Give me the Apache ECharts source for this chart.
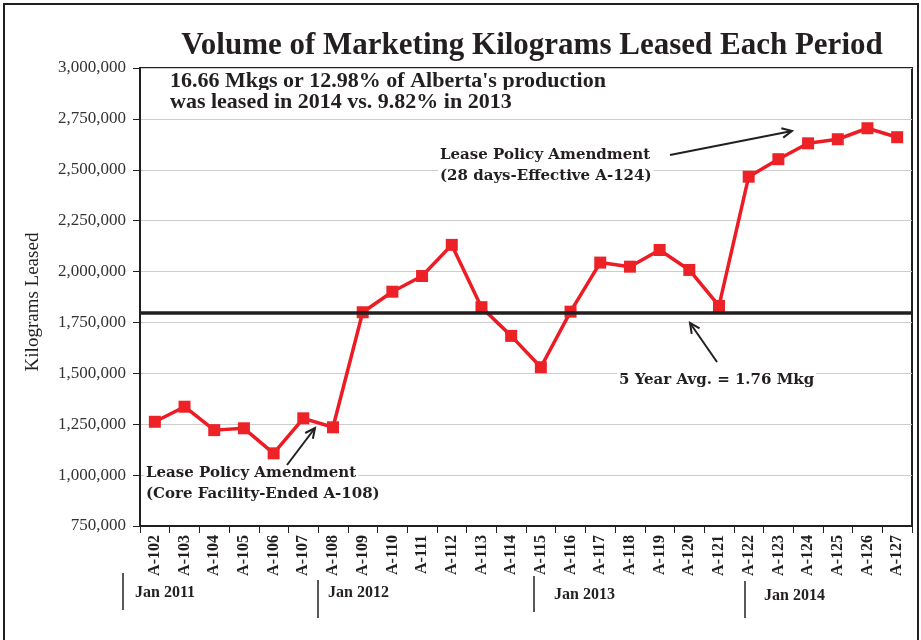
<!DOCTYPE html>
<html>
<head>
<meta charset="utf-8">
<script src="https://cdn.jsdelivr.net/npm/echarts@6/dist/echarts.min.js"></script>
<style>
html,body{margin:0;padding:0;background:#fff;}
#chart{width:921px;height:640px;}
</style>
</head>
<body>
<div id="chart"></div>
<script>
// ---- data ----
const categories = ['A-102','A-103','A-104','A-105','A-106','A-107','A-108','A-109','A-110','A-111','A-112','A-113','A-114','A-115','A-116','A-117','A-118','A-119','A-120','A-121','A-122','A-123','A-124','A-125','A-126','A-127'];
const leasedKg = [1262000,1336000,1221000,1230000,1107000,1279000,1235000,1800000,1901000,1978000,2131000,1825000,1684000,1530000,1803000,2044000,2024000,2106000,2008000,1831000,2466000,2552000,2630000,2650000,2704000,2660000];
const averageKg = 1800000;
const yTicks = {min:750000, max:3000000, interval:250000};
const yearLabels = ['Jan 2011','Jan 2012','Jan 2013','Jan 2014'];
const titleText = 'Volume of Marketing Kilograms Leased Each Period';
const yAxisTitle = 'Kilograms Leased';
const noteLines = ["16.66 Mkgs or 12.98% of Alberta's production", 'was leased in 2014 vs. 9.82% in 2013'];
const amendA = ['Lease Policy Amendment','(28 days-Effective A-124)'];
const amendB = ['Lease Policy Amendment','(Core Facility-Ended A-108)'];
const avgNote = '5 Year Avg. = 1.76 Mkg';

const SERIF = '"Liberation Serif","DejaVu Serif",serif';
const WIDE = '"DejaVu Serif","Liberation Serif",serif';
const INK = '#231f20';

function arrow(x1,y1,x2,y2){
  const a = Math.atan2(y2-y1,x2-x1), L=11, w=0.45;
  const p1=[x2-L*Math.cos(a-w), y2-L*Math.sin(a-w)];
  const p2=[x2-L*Math.cos(a+w), y2-L*Math.sin(a+w)];
  return [
    {type:'line',z:110,shape:{x1:x1,y1:y1,x2:x2,y2:y2},style:{stroke:INK,lineWidth:2}},
    {type:'polyline',z:110,shape:{points:[p1,[x2,y2],p2]},style:{stroke:INK,lineWidth:2,fill:null}}
  ];
}
function txt(x,y,t,size,fam,bg){
  const st = {text:t,font:'bold '+size+'px '+fam,fill:INK,textVerticalAlign:'middle'};
  if(bg){ st.backgroundColor='#fff'; st.padding=[1,2]; }
  return {type:'text',z:100,x:x,y:y,style:st};
}
function vline(x,y1,y2){
  return {type:'line',z:100,shape:{x1:x,y1:y1,x2:x,y2:y2},style:{stroke:INK,lineWidth:1.5}};
}

const chart = echarts.init(document.getElementById('chart'));
const graphics = [
  {type:'rect',z:100,shape:{x:4,y:4,width:914,height:650},style:{stroke:INK,lineWidth:2,fill:null},silent:true},
  {type:'text',z:100,x:33,y:302,rotation:Math.PI/2,
    style:{text:yAxisTitle,font:'19px '+SERIF,fill:INK,textAlign:'center',textVerticalAlign:'middle'}},
  txt(168,81,noteLines[0],22,SERIF,true), txt(168,102,noteLines[1],22,SERIF,true),
  txt(438,155,amendA[0],15,WIDE,true), txt(438,176,amendA[1],15,WIDE,true),
  txt(144,473,amendB[0],15,WIDE,true), txt(144,494,amendB[1],15,WIDE,true),
  txt(617,380,avgNote,15,WIDE,true),
  txt(135,593,yearLabels[0],16,SERIF), txt(328,593,yearLabels[1],16,SERIF),
  txt(554,595,yearLabels[2],16,SERIF), txt(764,596,yearLabels[3],16,SERIF),
  vline(123,573,610), vline(318,580,618), vline(534,576,612), vline(745,581,618)
].concat(arrow(670,155,792,131), arrow(287,465,315,428), arrow(717,362,690,323));

chart.setOption({
  animation:false,
  backgroundColor:'#fff',
  title:{text:titleText,left:527,top:25,textAlign:'center',
    textStyle:{fontFamily:SERIF,fontWeight:'bold',fontSize:31,color:INK}},
  grid:{left:140,right:9,top:68,bottom:114,show:true,borderColor:INK,borderWidth:2,backgroundColor:'transparent'},
  xAxis:{type:'category',data:categories,boundaryGap:true,
    axisLine:{lineStyle:{color:INK,width:2}},
    axisTick:{show:true,length:7,lineStyle:{color:INK,width:1}},
    axisLabel:{rotate:90,margin:9,fontFamily:SERIF,fontWeight:'bold',fontSize:16,color:INK,interval:0},
    splitLine:{show:false}},
  yAxis:{type:'value',min:yTicks.min,max:yTicks.max,interval:yTicks.interval,
    axisLine:{show:true,lineStyle:{color:INK,width:2}},
    axisTick:{show:true,length:7,lineStyle:{color:INK,width:1}},
    axisLabel:{margin:14,fontFamily:SERIF,fontSize:17,color:'#333',
      formatter:v=>v.toLocaleString('en-US')},
    splitLine:{show:true,lineStyle:{color:'#cccccc',width:1}}},
  series:[{
    type:'line',data:leasedKg,symbol:'rect',symbolSize:12,
    lineStyle:{color:'#ed1c24',width:3.5},
    itemStyle:{color:'#ec2227'},
    z:3,
    markLine:{silent:true,symbol:'none',label:{show:false},
      lineStyle:{color:INK,width:3.5,type:'solid'},
      data:[{yAxis:averageKg}]}
  }],
  graphic:graphics
});
</script>
</body>
</html>
